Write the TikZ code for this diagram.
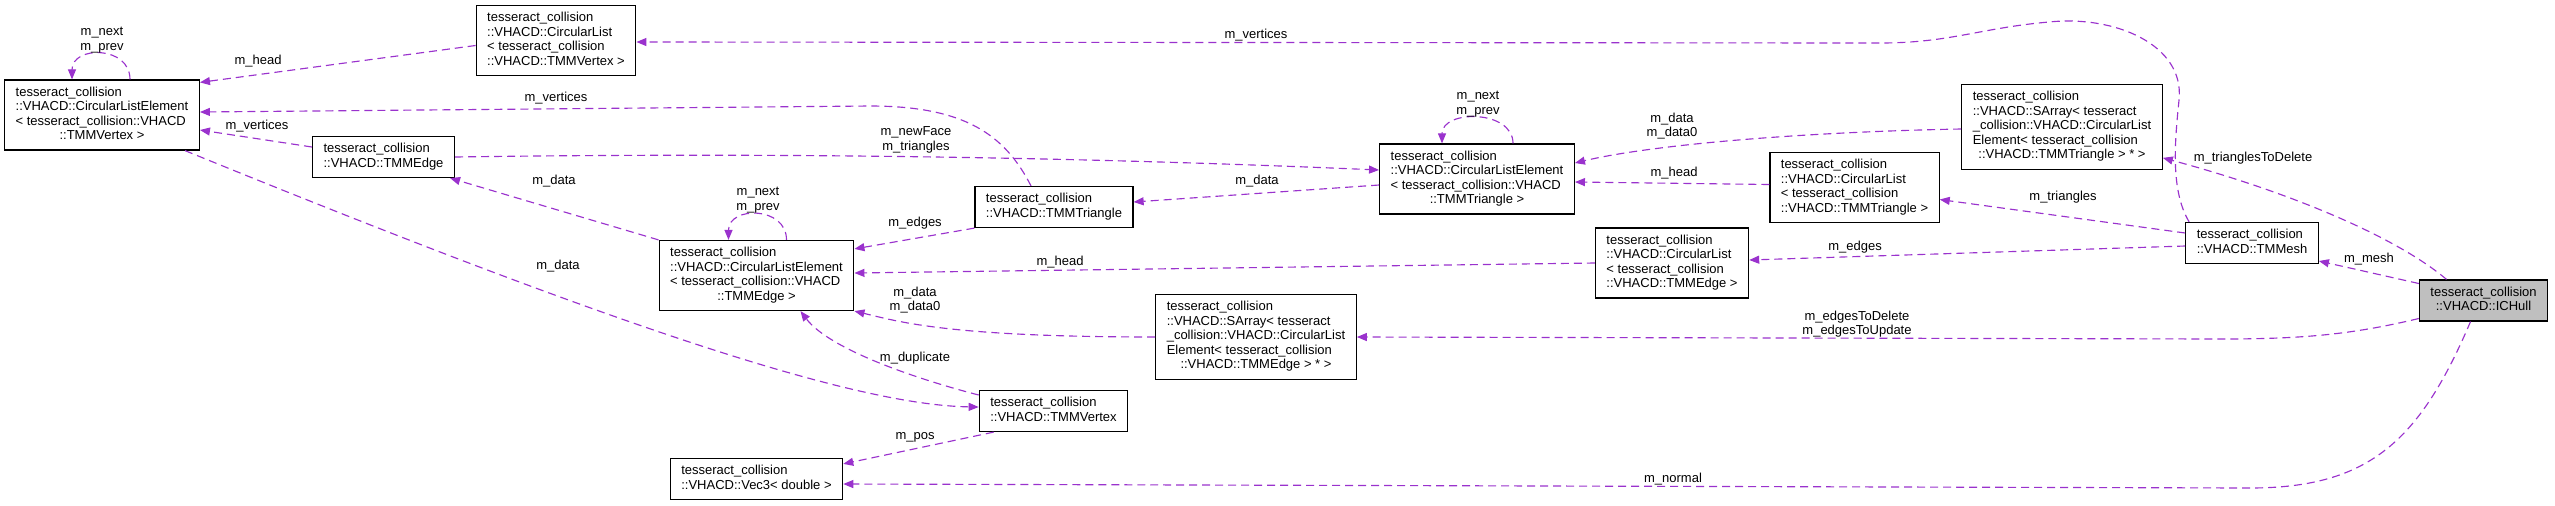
\documentclass[tikz,border=0pt]{standalone}
\usepackage{fontspec}
\setmainfont{Liberation Sans}
\usetikzlibrary{arrows.meta,calc}

\definecolor{depcol}{HTML}{9A32CD}
\definecolor{mainfill}{HTML}{BFBFBF}
\newcommand{\klass}[2]{\begin{tabular}{@{}l@{}}#1\\\multicolumn{1}{@{}c@{}}{#2}\end{tabular}}

\begin{document}
\begin{tikzpicture}[x=0.02cm, y=-0.02cm, every node/.style={font=\fontsize{7.4}{8.25}\selectfont}, cls/.style={draw, fill=white, line width=0.7pt, inner xsep=0.22cm, inner ysep=0.12cm}, dep/.style={draw=depcol, line width=0.65pt, dash pattern=on 0.16cm off 0.1cm, -{Triangle[length=0.2cm, width=0.16cm]}}, lbl/.style={align=center, inner sep=0pt}]
	\useasboundingbox (0,0) rectangle (2555,505);
	\node[cls] (CLEv) at (102,115) {\klass{tesseract\_collision\\::VHACD::CircularListElement\\< tesseract\_collision::VHACD}{::TMMVertex >}};
	\node[cls] (CLv) at (556,40.5) {\klass{tesseract\_collision\\::VHACD::CircularList\\< tesseract\_collision}{::VHACD::TMMVertex >}};
	\node[cls] (TMMedge) at (383.5,157) {\klass{tesseract\_collision}{::VHACD::TMMEdge}};
	\node[cls] (CLEedge) at (756.5,275.5) {\klass{tesseract\_collision\\::VHACD::CircularListElement\\< tesseract\_collision::VHACD}{::TMMEdge >}};
	\node[cls] (TMMtri) at (1054,207) {\klass{tesseract\_collision}{::VHACD::TMMTriangle}};
	\node[cls] (TMMvert) at (1053.5,411) {\klass{tesseract\_collision}{::VHACD::TMMVertex}};
	\node[cls] (Vec3) at (756.5,479) {\klass{tesseract\_collision}{::VHACD::Vec3< double >}};
	\node[cls] (CLEtri) at (1477,179) {\klass{tesseract\_collision\\::VHACD::CircularListElement\\< tesseract\_collision::VHACD}{::TMMTriangle >}};
	\node[cls] (SAedge) at (1256,337) {\klass{tesseract\_collision\\::VHACD::SArray< tesseract\\\_collision::VHACD::CircularList\\Element< tesseract\_collision}{::VHACD::TMMEdge > * >}};
	\node[cls] (CLtri) at (1854.5,187.5) {\klass{tesseract\_collision\\::VHACD::CircularList\\< tesseract\_collision}{::VHACD::TMMTriangle >}};
	\node[cls] (CLedge) at (1672,263) {\klass{tesseract\_collision\\::VHACD::CircularList\\< tesseract\_collision}{::VHACD::TMMEdge >}};
	\node[cls] (SAtri) at (2062,127) {\klass{tesseract\_collision\\::VHACD::SArray< tesseract\\\_collision::VHACD::CircularList\\Element< tesseract\_collision}{::VHACD::TMMTriangle > * >}};
	\node[cls] (TMMesh) at (2252,243) {\klass{tesseract\_collision}{::VHACD::TMMesh}};
	\node[cls, fill=mainfill] (ICHull) at (2483.5,300.5) {\klass{tesseract\_collision}{::VHACD::ICHull}};
	\draw[dep] ($(CLv.west)+(0,5)$) -- ($(CLEv.north east)+(0,3)$) node[lbl] (lHeadV) at (258,61) {m\_head};
	\draw[dep] ($(CLEv.north)+(28,0)$) .. controls +(0,-34) and +(0,-34) .. ($(CLEv.north)+(-30,0)$) node[lbl] (lLoopV) at (102,40) {m\_next\\m\_prev};
	\draw[dep] ($(TMMtri.north)+(-23,0)$) .. controls (1005,135) and (965,106) .. (870,106) -- ($(CLEv.east)+(0,-3)$) node[lbl] (lVertT) at (556,98) {m\_vertices};
	\draw[dep] ($(TMMedge.west)+(0,-10)$) -- ($(CLEv.east)+(0,15)$) node[lbl] (lVertE) at (257,126) {m\_vertices};
	\draw[dep] ($(CLEv.south)+(83,0)$) .. controls (600,320) and (850,405) .. ($(TMMvert.west)+(0,-4)$) node[lbl] (lDataV) at (558,266) {m\_data};
	\draw[dep] (CLEedge.north west) -- ($(TMMedge.south east)+(-5,0)$) node[lbl] (lDataE) at (554,181) {m\_data};
	\draw[dep] ($(CLEedge.north)+(30,0)$) .. controls +(0,-34) and +(0,-34) .. ($(CLEedge.north)+(-28,0)$) node[lbl] (lLoopE) at (758,200) {m\_next\\m\_prev};
	\draw[dep] (TMMedge.east) .. controls (800,152) and (1100,158) .. ($(CLEtri.west)+(0,-9)$) node[lbl] (lFace) at (916,140) {m\_newFace\\m\_triangles};
	\draw[dep] ($(CLEtri.west)+(0,6)$) -- ($(TMMtri.east)+(0,-5)$) node[lbl] (lDataT) at (1257,181) {m\_data};
	\draw[dep] (TMMtri.south west) -- ($(CLEedge.north east)+(0,9)$) node[lbl] (lEdgesT) at (915,223) {m\_edges};
	\draw[dep] (CLedge.west) -- ($(CLEedge.east)+(0,-2.5)$) node[lbl] (lHeadE) at (1060,262) {m\_head};
	\draw[dep] (SAedge.west) .. controls (950,337) and (900,322) .. (CLEedge.south east) node[lbl] (lDataSE) at (915,300) {m\_data\\m\_data0};
	\draw[dep] ($(TMMvert.west)+(0,-16)$) .. controls (920,380) and (830,350) .. ($(CLEedge.south)+(44,0)$) node[lbl] (lDup) at (915,358) {m\_duplicate};
	\draw[dep] ($(TMMvert.south west)+(15,0)$) -- ($(Vec3.north east)+(0,6)$) node[lbl] (lPos) at (915,437) {m\_pos};
	\draw[dep] ($(ICHull.south)+(-13,0)$) .. controls (2420,440) and (2370,488) .. (2250,488) -- ($(Vec3.east)+(0,5)$) node[lbl] (lNormal) at (1673,479) {m\_normal};
	\draw[dep] ($(CLEtri.north)+(36,0)$) .. controls +(0,-34) and +(0,-34) .. ($(CLEtri.north)+(-35,0)$) node[lbl] (lLoopT) at (1478,104) {m\_next\\m\_prev};
	\draw[dep] ($(SAtri.west)+(0,2)$) .. controls (1800,132) and (1650,145) .. ($(CLEtri.east)+(0,-16)$) node[lbl] (lDataST) at (1672,126) {m\_data\\m\_data0};
	\draw[dep] ($(CLtri.west)+(0,-3)$) -- ($(CLEtri.east)+(0,3)$) node[lbl] (lHeadT) at (1674,173) {m\_head};
	\draw[dep] ($(TMMesh.west)+(0,-10)$) -- ($(CLtri.east)+(0,12)$) node[lbl] (lTri) at (2063,197) {m\_triangles};
	\draw[dep] ($(TMMesh.west)+(0,3)$) -- ($(CLedge.east)+(0,-3)$) node[lbl] (lEdgesM) at (1855,247) {m\_edges};
	\draw[dep] ($(TMMesh.north west)+(4,0)$) .. controls (2170,190) and (2175,140) .. (2179,100) .. controls (2185,45) and (2115,15) .. (2049,22) .. controls (1980,28) and (1950,43) .. (1880,43) -- ($(CLv.east)+(0,1.5)$) node[lbl] (lVertM) at (1256,35) {m\_vertices};
	\draw[dep] ($(ICHull.north)+(-37,0)$) .. controls (2400,240) and (2300,195) .. ($(SAtri.south east)+(0,-12)$) node[lbl] (lTriDel) at (2253,158) {m\_trianglesToDelete};
	\draw[dep] ($(ICHull.west)+(0,-17)$) -- ($(TMMesh.east)+(0,18)$) node[lbl] (lMesh) at (2369,259) {m\_mesh};
	\draw[dep] ($(ICHull.west)+(0,18)$) .. controls (2350,335) and (2300,339) .. (2220,339) -- (SAedge.east) node[lbl] (lEdgesDel) at (1857,324) {m\_edgesToDelete\\m\_edgesToUpdate};
\end{tikzpicture}
\end{document}
